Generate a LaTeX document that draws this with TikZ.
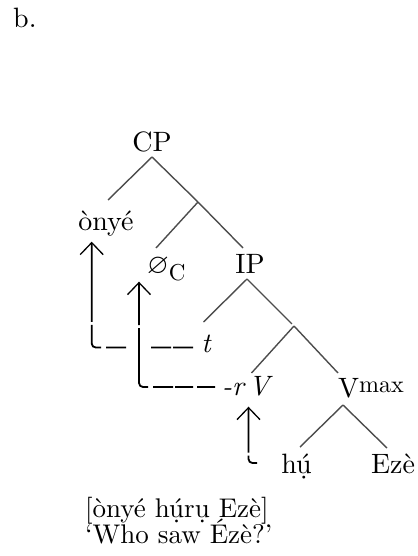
\documentclass[tikz,border=0pt]{standalone}
\usepackage{amssymb}
\usepackage{fontspec}
\setmainfont{lmroman10-regular}[Extension=.otf, ItalicFont=lmroman10-italic]
\usetikzlibrary{arrows.meta}

\begin{document}
\begin{tikzpicture}[x=1pt, y=-1pt,
    word/.style={font=\fontsize{28}{32}\selectfont, inner sep=0pt, anchor=base},
    branch/.style={black!70, line width=1.4pt},
    move/.style={line width=1.8pt, rounded corners=4pt,
      -{Straight Barb[length=12pt, width=23pt, line width=1.3pt]}}]
    \useasboundingbox (0,0) rectangle (417,556);

    % Example label
    \node[word, anchor=base west] (label) at (13,28) {b.};

    % Tree nodes
    \node[word] (CP) at (152,152) {CP};
    \node[word] (onye) at (106,230) {ònyé};
    \coordinate (cbar) at (198,202);
    \node[word, anchor=base west] (null) at (147,273) {$\varnothing$\raisebox{-7pt}{\fontsize{23}{26}\selectfont C}};
    \node[word] (IP) at (250,273) {IP};
    \node[word] (t) at (206.5,352) {\textit{t}};
    \coordinate (ibar) at (294,326);
    \node[word] (rV) at (247.5,395) {\textit{-r\,V}};
    \node[word, anchor=base west] (Vmax) at (338,397) {V\raisebox{5pt}{\fontsize{24}{28}\selectfont max}};
    \node[word] (hu) at (296.5,473) {hụ́};
    \node[word] (Eze) at (393,473) {Ezè};

    % Branches
    \draw[branch] ([yshift=-5pt]CP.base) -- ([shift={(2pt,30pt)}]onye.base);
    \draw[branch] ([yshift=-5pt]CP.base) -- (cbar);
    \draw[branch] (cbar) -- ([shift={(9pt,25pt)}]null.base west);
    \draw[branch] (cbar) -- ([shift={(-7pt,25pt)}]IP.base);
    \draw[branch] ([shift={(-3pt,-6pt)}]IP.base) -- ([shift={(-3pt,30pt)}]t.base);
    \draw[branch, shorten >=3pt] ([shift={(-3pt,-6pt)}]IP.base) -- (ibar);
    \draw[branch] (ibar) -- ([shift={(4pt,22pt)}]rV.base);
    \draw[branch] (ibar) -- ([yshift=24pt]Vmax.base west);
    \draw[branch] ([shift={(5pt,-8pt)}]Vmax.base west) -- ([shift={(3.5pt,26pt)}]hu.base);
    \draw[branch] ([shift={(5pt,-8pt)}]Vmax.base west) -- ([shift={(-6pt,25pt)}]Eze.base);

    % Movement arrows
    \coordinate (rV-tail) at (257,463);
    \draw[move, dash pattern=on 20pt off 2pt on 20pt off 25pt on 20pt off 5pt on 30pt off 3pt on 200pt]
      ([shift={(-13.5pt,4.5pt)}]t.base) -| ([shift={(-14.3pt,-11.7pt)}]onye.base);
    \draw[move, dash pattern=on 18pt off 4pt on 18pt off 2pt on 20pt off 5pt on 66pt off 3pt on 200pt]
      ([shift={(-32.5pt,8pt)}]rV.base) -| ([shift={(-8pt,-8.7pt)}]null.base west);
    \draw[move, dash pattern=on 14pt off 3pt on 200pt]
      (rV-tail) -| ([shift={(1pt,-11.7pt)}]rV.base);

    % Gloss
    \node[word, font=\fontsize{27}{31}\selectfont, anchor=base west] (gloss) at (85,517) {[ònyé hụ́rụ Ezè]};
    \node[word, font=\fontsize{27}{31}\selectfont, anchor=base west] (trans) at ([yshift=-26pt]gloss.base west) {‘Who saw Ézè?’};
\end{tikzpicture}
\end{document}
